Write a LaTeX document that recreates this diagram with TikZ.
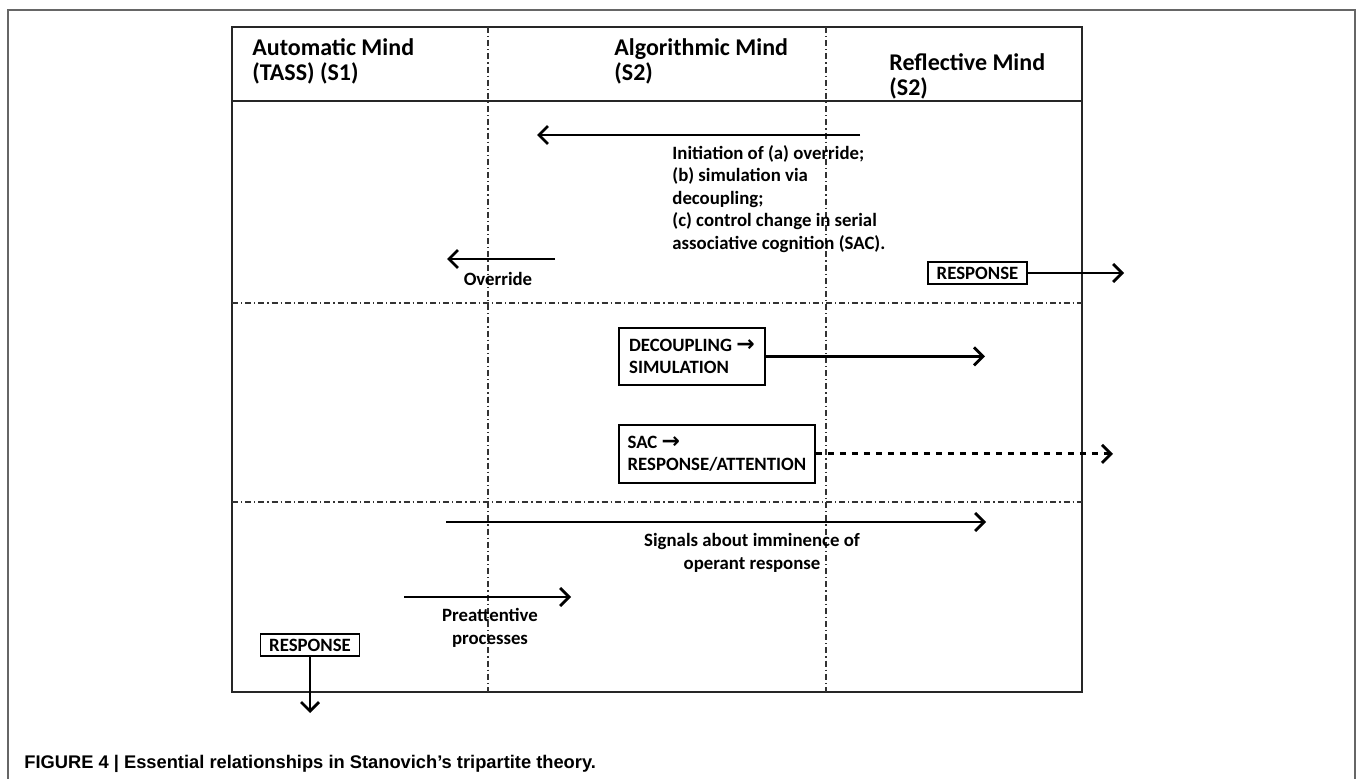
\documentclass[tikz,border=0pt]{standalone}
\usepackage{fontspec}
\setmainfont{Carlito}
\newfontfamily\capfont{Liberation Sans}
\newfontfamily\arrowfont{DejaVu Sans}
\usetikzlibrary{arrows.meta}
\newcommand{\tto}{{\arrowfont\fontsize{11}{10}\selectfont →}}

\tikzset{
	mind/.style={anchor=north west, inner sep=0pt, align=left, font=\bfseries\fontsize{12}{12.5}\selectfont},
	note/.style={inner sep=0pt, align=left, font=\bfseries\fontsize{9.4}{11.25}\selectfont},
	procbox/.style={draw, line width=0.9pt, anchor=north west, align=left, inner sep=0pt, font=\bfseries\fontsize{9.4}{11.25}\selectfont},
	respbox/.style={draw, line width=0.9pt, minimum width=49.5pt, minimum height=11pt, inner sep=0pt, font=\bfseries\fontsize{9.4}{11.25}\selectfont},
	flow/.style={line width=1.4pt, -{Straight Barb[length=4.5pt,width=9pt,line width=1.4pt]}},
	divider/.style={line width=0.6pt, black!80, dash pattern=on 3pt off 1.5pt on 0.6pt off 1.5pt},
}

\begin{document}
\begin{tikzpicture}[x=0.5pt,y=-0.5pt]
	\useasboundingbox (0,0) rectangle (1358,779);

	% frame
	\draw[line width=1pt, black!60] (8,779) -- (8,10) -- (1355,10) -- (1355,779);

	% table
	\draw[line width=1.1pt, black!85] (232,27) rectangle (1082,692);
	\draw[line width=1.1pt, black!85] (232,101) -- (1082,101);
	\draw[divider] (488,27) -- (488,692);
	\draw[divider] (826,27) -- (826,692);
	\draw[divider] (232,303) -- (1082,303);
	\draw[divider] (232,502) -- (1082,502);

	% minds
	\node[mind] (auto) at (252,38) {Automatic Mind\\(TASS) (S1)};
	\node[mind] (algo) at (614,38) {Algorithmic Mind\\(S2)};
	\node[mind] (refl) at (889,53) {Reflective Mind\\(S2)};

	% initiation
	\coordinate (initS) at (860,135);
	\coordinate (initE) at (537,135);
	\draw[flow] (initS) -- (initE);
	\node[note, anchor=north west] (init) at (672,145) {Initiation of (a) override;\\(b) simulation via\\decoupling;\\(c) control change in serial\\associative cognition (SAC).};

	% override
	\coordinate (ovrS) at (555,259);
	\coordinate (ovrE) at (447,259);
	\draw[flow] (ovrS) -- (ovrE);
	\node[note] (ovr) at (498,279) {Override};

	% response (reflective)
	\node[respbox] (respR) at (977.5,273) {RESPONSE};
	\coordinate (respRE) at (1124,273);
	\draw[flow] (respR.east) -- (respR.east -| respRE);

	% decoupling
	\node[procbox, minimum width=73pt, minimum height=28.5pt] (dec) at (618,327) {DECOUPLING \tto\\SIMULATION};
	\coordinate (decE) at (985,355.5);
	\draw[flow] (dec.east) -- (dec.east -| decE);

	% SAC
	\node[procbox, minimum width=98pt, minimum height=29pt] (sac) at (618,424) {SAC \tto\\RESPONSE/ATTENTION};
	\coordinate (sacE) at (1113,453);
	\draw[flow, dashed] (sac.east) -- (sac.east -| sacE);

	% signals
	\coordinate (sigS) at (446,522);
	\coordinate (sigE) at (986,522);
	\draw[flow] (sigS) -- (sigE);
	\node[note, align=center] (sig) at (752,553) {Signals about imminence of\\operant response};

	% preattentive
	\coordinate (preS) at (404,597);
	\coordinate (preE) at (571,597);
	\draw[flow] (preS) -- (preE);
	\node[note, align=center] (pre) at (490,628) {Preattentive\\processes};

	% response (automatic)
	\node[respbox] (respA) at (310,645) {RESPONSE};
	\coordinate (respAE) at (310,713);
	\draw[flow] (respA.south) -- (respA.south |- respAE);

	% caption
	\node[anchor=west, inner sep=0pt, font=\capfont\bfseries\fontsize{9.15}{11}\selectfont] (cap) at (24,764) {FIGURE 4 | Essential relationships in Stanovich’s tripartite theory.};

\end{tikzpicture}
\end{document}
